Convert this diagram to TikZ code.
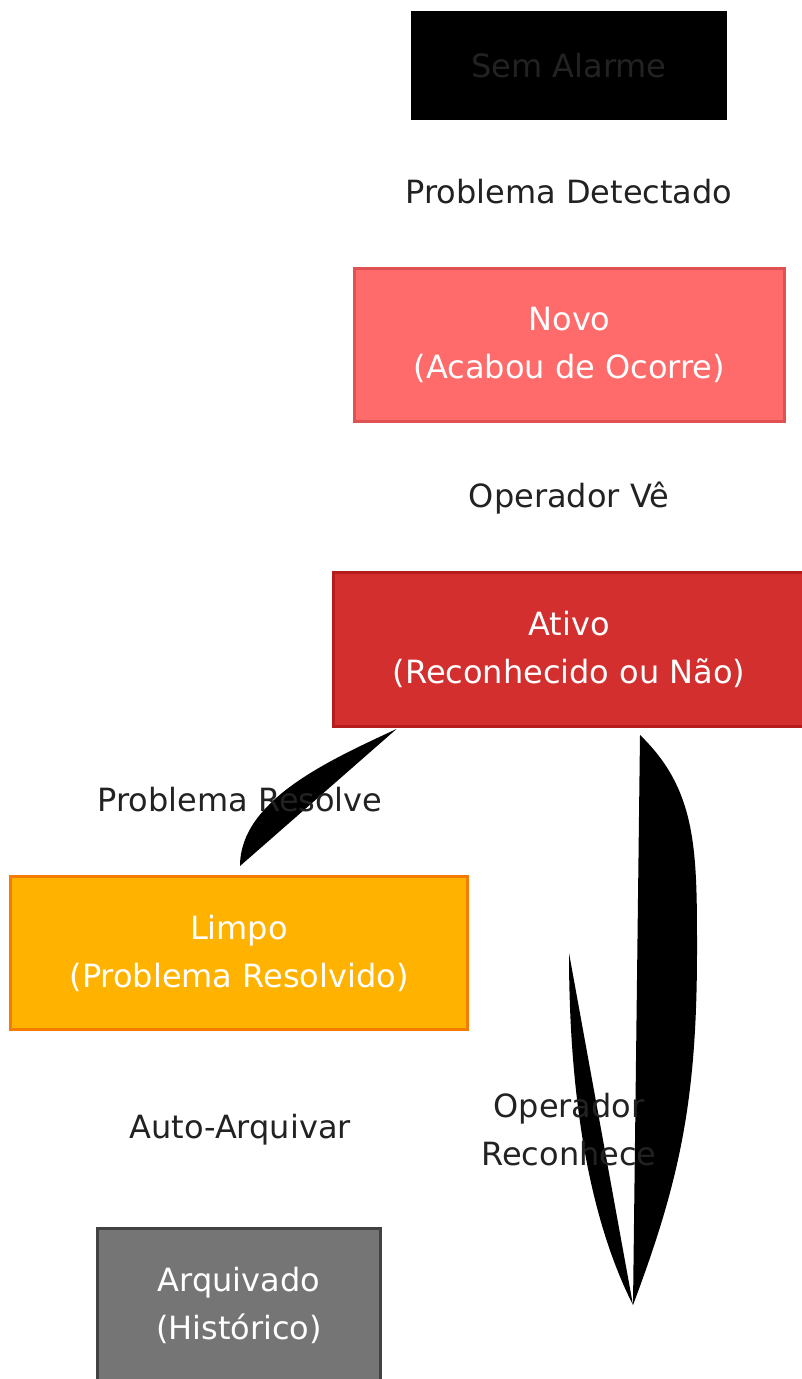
\documentclass[tikz,border=0pt]{standalone}
\usepackage{fontspec}
\setmainfont{DejaVu Sans}
\usepackage{xcolor}
\usepackage{tikz}
\usetikzlibrary{calc}
\definecolor{labelgray}{HTML}{222222}
\definecolor{novofill}{HTML}{FF6B6B}
\definecolor{novoline}{HTML}{E05252}
\definecolor{ativofill}{HTML}{D32F2F}
\definecolor{ativoline}{HTML}{B71C1C}
\definecolor{limpofill}{HTML}{FFB300}
\definecolor{limpoline}{HTML}{F57C00}
\definecolor{arqfill}{HTML}{757575}
\definecolor{arqline}{HTML}{424242}

\begin{document}
\begin{tikzpicture}[x=1pt,y=-1pt,
every node/.style={font=\fontsize{32}{48}\selectfont},
state/.style={draw,line width=3pt,align=center,text=white,inner sep=0pt},
edgelabel/.style={text=labelgray,align=center,inner sep=0pt}]
\useasboundingbox (0,0) rectangle (801,1379);
% the states:
\node [state,fill=black,draw=black,text=labelgray,minimum width=313,minimum height=106] (sem) at (569,65.5) {Sem Alarme};
\node [state,fill=novofill,draw=novoline,minimum width=430,minimum height=153] (novo) at (569.5,345) {Novo\\(Acabou de Ocorre)};
\node [state,fill=ativofill,draw=ativoline,minimum width=472,minimum height=154] (ativo) at (569,649.5) {Ativo\\(Reconhecido ou Não)};
\node [state,fill=limpofill,draw=limpoline,minimum width=457,minimum height=153] (limpo) at (239,953) {Limpo\\(Problema Resolvido)};
\node [state,fill=arqfill,draw=arqline,minimum width=283,minimum height=153] (arq) at (239,1305) {Arquivado\\(Histórico)};

% free ends of the filled connectors
\coordinate (resolve end) at (240,866);
\coordinate (loop start) at (640,735);
\coordinate (loop end) at (633,1305);
\coordinate (loop back) at (569,953);

\fill ($(ativo.south west)+(65,1)$) .. controls (330,760) and (240,800) .. (resolve end) -- cycle;
\fill (loop start) .. controls (697,790) and (697,850) .. (697,950)
  .. controls (697,1100) and (680,1180) .. (loop end) -- cycle;
\fill (loop back) .. controls (569,1100) and (590,1220) .. (loop end) -- cycle;

% transition labels
\foreach \name/\x/\y/\txt in {detect/569/192/{Problema Detectado},
  ve/569/498/{Operador Vê},
  resolve/240/800/{Problema Resolve},
  auto/240/1130/{Auto-Arquivar},
  reconhece/569/1130/{Operador\\Reconhece}}
{
\node [edgelabel] (\name) at (\x,\y) {\txt};
}
\end{tikzpicture}
\end{document}
